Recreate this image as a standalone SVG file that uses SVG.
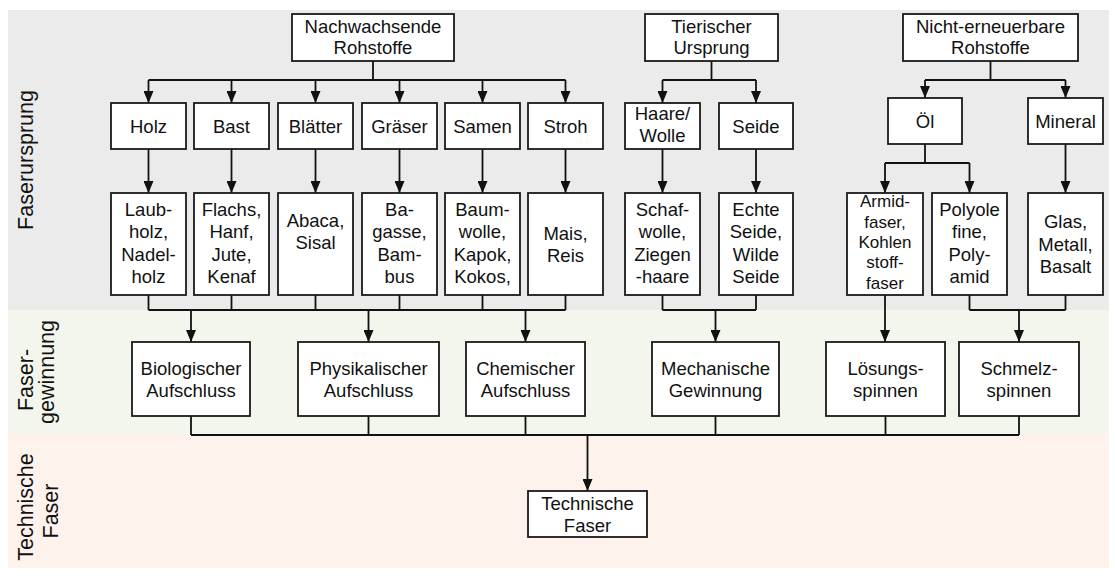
<svg xmlns="http://www.w3.org/2000/svg" width="1115" height="577" viewBox="0 0 1115 577">
<style>
.box{fill:#fff;stroke:#1a1a1a;stroke-width:1.8}
.t{font-family:"Liberation Sans",Arial,sans-serif;font-size:18.5px;fill:#111;text-anchor:middle}
.s{font-size:17px}
.side{font-family:"Liberation Sans",Arial,sans-serif;font-size:21.5px;fill:#111;text-anchor:middle}
.ln{fill:none;stroke:#111;stroke-width:1.8}
.ar{fill:none;stroke:#111;stroke-width:1.8;marker-end:url(#ah)}
</style>
<defs>
<marker id="ah" viewBox="0 0 12 10" refX="12" refY="5" markerWidth="12" markerHeight="10" markerUnits="userSpaceOnUse" orient="auto">
<path d="M0,0 L12,5 L0,10 z" fill="#111"/>
</marker>
</defs>
<rect width="1115" height="577" fill="#fff"/>
<g id="bands">
<rect x="8" y="10" width="1101" height="300" fill="#ebebeb"/>
<rect x="8" y="310" width="1101" height="124" fill="#f3f6ec"/>
<rect x="8" y="434" width="1101" height="134" fill="#fdf3ec"/>
</g>
<g id="side-labels">
<text class="side" transform="translate(33,160) rotate(-90)">Faserursprung</text>
<text class="side" transform="translate(33,380) rotate(-90)">Faser-</text>
<text class="side" transform="translate(54,372) rotate(-90)">gewinnung</text>
<text class="side" transform="translate(33,507) rotate(-90)">Technische</text>
<text class="side" transform="translate(58,511) rotate(-90)">Faser</text>
</g>
<g id="connectors">
<path class="ln" d="M373,61 V80 M148.5,80 H565.5"/>
<path class="ar" d="M148.5,80 V103"/>
<path class="ar" d="M231.5,80 V103"/>
<path class="ar" d="M315.5,80 V103"/>
<path class="ar" d="M399.5,80 V103"/>
<path class="ar" d="M482.5,80 V103"/>
<path class="ar" d="M565.5,80 V103"/>
<path class="ln" d="M711.5,61 V80 M662.5,80 H756"/>
<path class="ar" d="M662.5,80 V103"/>
<path class="ar" d="M756,80 V103"/>
<path class="ln" d="M990.5,61 V80 M925,80 H1065.5"/>
<path class="ar" d="M925,80 V98"/>
<path class="ar" d="M1065.5,80 V98"/>
<path class="ar" d="M148.5,149 V193"/>
<path class="ar" d="M231.5,149 V193"/>
<path class="ar" d="M315.5,149 V193"/>
<path class="ar" d="M399.5,149 V193"/>
<path class="ar" d="M482.5,149 V193"/>
<path class="ar" d="M565.5,149 V193"/>
<path class="ar" d="M662.5,149 V193"/>
<path class="ar" d="M756,149 V193"/>
<path class="ln" d="M925,144 V163 M885,163 H969.5"/>
<path class="ar" d="M885,163 V193"/>
<path class="ar" d="M969.5,163 V193"/>
<path class="ar" d="M1065.5,144 V193"/>
<path class="ln" d="M148.5,295 V310 M231.5,295 V310 M315.5,295 V310 M399.5,295 V310 M482.5,295 V310 M565.5,295 V310 M148.5,310 H565.5"/>
<path class="ar" d="M191,310 V342"/>
<path class="ar" d="M368.5,310 V342"/>
<path class="ar" d="M525.5,310 V342"/>
<path class="ln" d="M662.5,295 V310 M756,295 V310 M662.5,310 H756"/>
<path class="ar" d="M715.5,310 V342"/>
<path class="ar" d="M885,295 V342"/>
<path class="ln" d="M969.5,295 V310 M1065.5,295 V310 M969.5,310 H1065.5"/>
<path class="ar" d="M1019,310 V342"/>
<path class="ln" d="M191,416 V435 M368.5,416 V435 M525.5,416 V435 M715.5,416 V435 M885.5,416 V435 M1019,416 V435 M191,435 H1019"/>
<path class="ar" d="M587.5,435 V491"/>
</g>
<g id="n-nachwachsende"><rect class="box" x="292" y="14" width="162" height="47"/><text class="t" x="373" y="33">Nachwachsende</text><text class="t" x="373" y="54">Rohstoffe</text></g>
<g id="n-tierisch"><rect class="box" x="645" y="14" width="133" height="47"/><text class="t" x="711.5" y="33">Tierischer</text><text class="t" x="711.5" y="54">Ursprung</text></g>
<g id="n-nicht"><rect class="box" x="903" y="14" width="175" height="47"/><text class="t" x="990.5" y="33">Nicht-erneuerbare</text><text class="t" x="990.5" y="54">Rohstoffe</text></g>
<g id="n-holz"><rect class="box" x="111" y="103" width="75" height="46"/><text class="t" x="148.5" y="132.5">Holz</text></g>
<g id="n-bast"><rect class="box" x="194" y="103" width="75" height="46"/><text class="t" x="231.5" y="132.5">Bast</text></g>
<g id="n-blaetter"><rect class="box" x="278" y="103" width="75" height="46"/><text class="t" x="315.5" y="132.5">Blätter</text></g>
<g id="n-graeser"><rect class="box" x="362" y="103" width="75" height="46"/><text class="t" x="399.5" y="132.5">Gräser</text></g>
<g id="n-samen"><rect class="box" x="445" y="103" width="75" height="46"/><text class="t" x="482.5" y="132.5">Samen</text></g>
<g id="n-stroh"><rect class="box" x="528" y="103" width="75" height="46"/><text class="t" x="565.5" y="132.5">Stroh</text></g>
<g id="n-haare"><rect class="box" x="625" y="103" width="75" height="46"/><text class="t" x="662.5" y="120">Haare/</text><text class="t" x="662.5" y="142">Wolle</text></g>
<g id="n-seide"><rect class="box" x="719" y="103" width="74" height="46"/><text class="t" x="756" y="132.5">Seide</text></g>
<g id="n-oel"><rect class="box" x="888" y="98" width="74" height="46"/><text class="t" x="925" y="127.5">Öl</text></g>
<g id="n-mineral"><rect class="box" x="1028" y="98" width="75" height="46"/><text class="t" x="1065.5" y="127.5">Mineral</text></g>
<g id="n-laubholz"><rect class="box" x="111" y="193" width="75" height="102"/><text class="t" x="148.5" y="215.5">Laub-</text><text class="t" x="148.5" y="238">holz,</text><text class="t" x="148.5" y="260.5">Nadel-</text><text class="t" x="148.5" y="283">holz</text></g>
<g id="n-flachs"><rect class="box" x="194" y="193" width="75" height="102"/><text class="t" x="231.5" y="215.5">Flachs,</text><text class="t" x="231.5" y="238">Hanf,</text><text class="t" x="231.5" y="260.5">Jute,</text><text class="t" x="231.5" y="283">Kenaf</text></g>
<g id="n-abaca"><rect class="box" x="278" y="193" width="75" height="102"/><text class="t" x="315.5" y="227">Abaca,</text><text class="t" x="315.5" y="249">Sisal</text></g>
<g id="n-bagasse"><rect class="box" x="362" y="193" width="75" height="102"/><text class="t" x="399.5" y="215.5">Ba-</text><text class="t" x="399.5" y="238">gasse,</text><text class="t" x="399.5" y="260.5">Bam-</text><text class="t" x="399.5" y="283">bus</text></g>
<g id="n-baumwolle"><rect class="box" x="445" y="193" width="75" height="102"/><text class="t" x="482.5" y="215.5">Baum-</text><text class="t" x="482.5" y="238">wolle,</text><text class="t" x="482.5" y="260.5">Kapok,</text><text class="t" x="482.5" y="283">Kokos,</text></g>
<g id="n-mais"><rect class="box" x="528" y="193" width="75" height="102"/><text class="t" x="565.5" y="239.5">Mais,</text><text class="t" x="565.5" y="262">Reis</text></g>
<g id="n-schaf"><rect class="box" x="625" y="193" width="75" height="102"/><text class="t" x="662.5" y="215.5">Schaf-</text><text class="t" x="662.5" y="238">wolle,</text><text class="t" x="662.5" y="260.5">Ziegen</text><text class="t" x="662.5" y="283">-haare</text></g>
<g id="n-echte"><rect class="box" x="719" y="193" width="74" height="102"/><text class="t" x="756" y="215.5">Echte</text><text class="t" x="756" y="238">Seide,</text><text class="t" x="756" y="260.5">Wilde</text><text class="t" x="756" y="283">Seide</text></g>
<g id="n-armid"><rect class="box" x="847" y="193" width="76" height="102"/><text class="t s" x="885" y="207">Armid-</text><text class="t s" x="885" y="228">faser,</text><text class="t s" x="885" y="248">Kohlen</text><text class="t s" x="885" y="268">stoff-</text><text class="t s" x="885" y="289">faser</text></g>
<g id="n-polyolefine"><rect class="box" x="932" y="193" width="75" height="102"/><text class="t" x="969.5" y="215.5">Polyole</text><text class="t" x="969.5" y="238">fine,</text><text class="t" x="969.5" y="260.5">Poly-</text><text class="t" x="969.5" y="283">amid</text></g>
<g id="n-glas"><rect class="box" x="1028" y="193" width="75" height="102"/><text class="t" x="1065.5" y="228">Glas,</text><text class="t" x="1065.5" y="250.5">Metall,</text><text class="t" x="1065.5" y="273">Basalt</text></g>
<g id="n-bio"><rect class="box" x="132" y="342" width="118" height="74"/><text class="t" x="191" y="374.5">Biologischer</text><text class="t" x="191" y="396.5">Aufschluss</text></g>
<g id="n-phys"><rect class="box" x="298" y="342" width="141" height="74"/><text class="t" x="368.5" y="374.5">Physikalischer</text><text class="t" x="368.5" y="396.5">Aufschluss</text></g>
<g id="n-chem"><rect class="box" x="466" y="342" width="119" height="74"/><text class="t" x="525.5" y="374.5">Chemischer</text><text class="t" x="525.5" y="396.5">Aufschluss</text></g>
<g id="n-mech"><rect class="box" x="652" y="342" width="127" height="74"/><text class="t" x="715.5" y="374.5">Mechanische</text><text class="t" x="715.5" y="396.5">Gewinnung</text></g>
<g id="n-loesung"><rect class="box" x="826" y="342" width="119" height="74"/><text class="t" x="885.5" y="374.5">Lösungs-</text><text class="t" x="885.5" y="396.5">spinnen</text></g>
<g id="n-schmelz"><rect class="box" x="959" y="342" width="120" height="74"/><text class="t" x="1019" y="374.5">Schmelz-</text><text class="t" x="1019" y="396.5">spinnen</text></g>
<g id="n-technisch"><rect class="box" x="528" y="491" width="119" height="46"/><text class="t" x="587.5" y="509.5">Technische</text><text class="t" x="587.5" y="532">Faser</text></g>
</svg>
